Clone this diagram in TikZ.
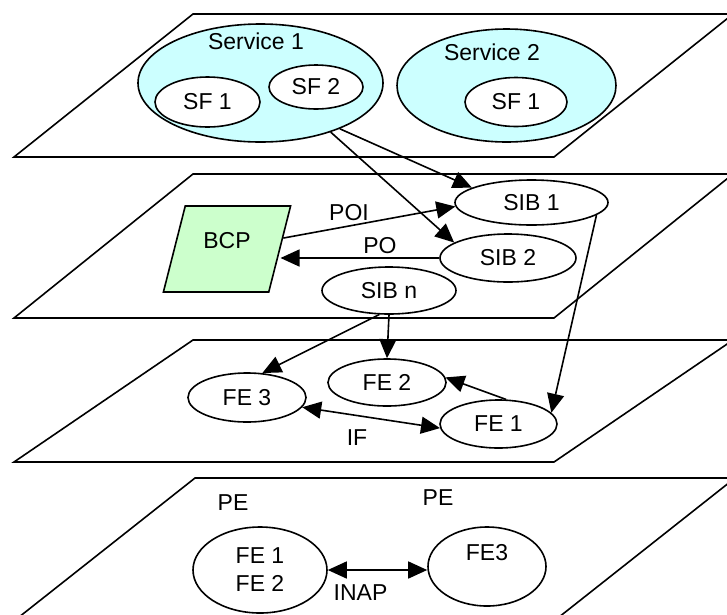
\documentclass[tikz,border=0pt]{standalone}
\usepackage{fontspec}
\setmainfont{Liberation Sans}
\usetikzlibrary{arrows.meta,shapes.geometric}

\definecolor{ciano}{HTML}{CCFFFF}
\definecolor{verdino}{HTML}{CCFFCC}

\begin{document}
\begin{tikzpicture}[x=1pt,y=-1pt,
        font=\fontsize{23}{28}\selectfont,
        line width=1.6pt,
        servizio/.style={draw, ellipse, fill=ciano, inner sep=0pt},
        elli/.style={draw, ellipse, fill=white, inner sep=0pt, align=center},
        freccia/.style={-{Triangle[length=19pt,width=17pt]}},
        doppia/.style={{Triangle[length=19pt,width=17pt]}-{Triangle[length=19pt,width=17pt]}}]
        \clip (0,0) rectangle (727,614);

        % Disegna i piani
        \draw (193,14) -- (733,14) -- (554,157) -- (14,157) -- cycle;  % Piano servizi
        \draw (193,174) -- (733,174) -- (554,318) -- (14,318) -- cycle; % Piano SIB
        \draw (193,340) -- (733,340) -- (554,462) -- (14,462) -- cycle; % Piano FE
        \draw (195,478) -- (735,478) -- (554,621) -- (14,621) -- cycle; % Piano PE

        % Servizi
        \node[servizio, minimum width=245pt, minimum height=118pt] (svc1) at (260.5,83) {};
        \node (svc1txt) at (256,41) {Service 1};
        \node[elli, minimum width=105pt, minimum height=50pt] (sf1a) at (207.5,102) {SF 1};
        \node[elli, minimum width=94pt, minimum height=44pt] (sf2) at (316,87) {SF 2};
        \node[servizio, minimum width=219pt, minimum height=113pt] (svc2) at (506.5,85.5) {};
        \node (svc2txt) at (492,52) {Service 2};
        \node[elli, minimum width=102pt, minimum height=49pt] (sf1b) at (516,102) {SF 1};

        % SIB e BCP
        \node[draw, trapezium, trapezium left angle=70, trapezium right angle=110,
            trapezium stretches=true, fill=verdino, inner sep=0pt,
            text height=16pt, text depth=18pt,
            minimum width=128pt, minimum height=86pt] (bcp) at (227,249) {BCP};
        \node[elli, minimum width=153pt, minimum height=45pt] (sib1) at (531.5,202.5) {SIB 1};
        \node[elli, minimum width=136pt, minimum height=48pt] (sib2) at (508,258) {SIB 2};
        \node[elli, minimum width=134pt, minimum height=47pt] (sibn) at (389,290.5) {SIB n};

        % FE
        \node[elli, minimum width=118pt, minimum height=49pt] (fe3) at (247,397.5) {FE 3};
        \node[elli, minimum width=118pt, minimum height=47pt] (fe2) at (387,382.5) {FE 2};
        \node[elli, minimum width=117pt, minimum height=48pt] (fe1) at (498.5,424) {FE 1};

        % PE
        \node (pe1) at (233,503) {PE};
        \node (pe2) at (438,498) {PE};
        \node[elli, minimum width=134pt, minimum height=86pt] (fe12) at (260,570) {FE 1\\FE 2};
        \node[elli, minimum width=118pt, minimum height=79pt] (fe3b) at (487,566.5) {FE3\\~};

        % Frecce
        \draw[freccia] (svc1.-30) -- (sib1.166);
        \draw[freccia] (svc1.-35) -- (sib2.164);
        \draw[freccia] (bcp.11) -- (sib1.183);
        \draw[freccia] (sib2.west) -- (sib2.west -| bcp.east);
        \draw[freccia] (sib1.-11) -- (fe1.12);
        \draw[freccia] (sibn.south) -- (fe2.north);
        \draw[freccia] (sibn.-112) -- (fe3.58);
        \draw[freccia] (fe1.73) -- (fe2.5);
        \draw[doppia] (fe3.-10) -- (fe1.-176);
        \draw[doppia] (fe12.east) -- (fe12.east -| fe3b.west);

        % Etichette
        \node (poi) at (349,213) {POI};
        \node (po) at (380,246) {PO};
        \node (if) at (357,438) {IF};
        \node (inap) at (360.5,593) {INAP};
    \end{tikzpicture}
\end{document}
